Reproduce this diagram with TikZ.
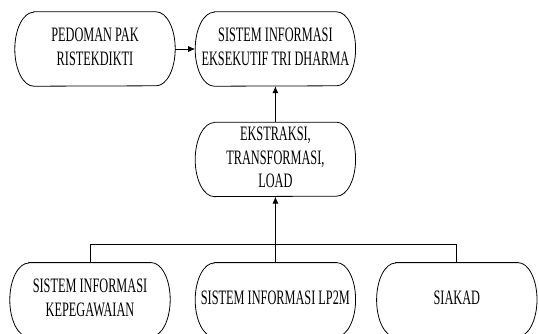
\documentclass[tikz,border=0pt]{standalone}
\usepackage{fontspec}
\usepackage{graphicx}
\setmainfont{Liberation Serif}
\usetikzlibrary{
	arrows.meta,
	positioning
}
\tikzset{
	>={Latex[length=7pt,width=6pt]},
	flowedge/.style={line width=0.8pt},
	flownode/.style={minimum width=160pt, minimum height=74pt, inner sep=0pt,
		font=\fontsize{20.5}{23.5}\selectfont},
	outline/.style={line width=0.8pt}
}
\newcommand{\rx}{19pt}
\newcommand{\ry}{37pt}
\newcommand{\narrow}[1]{\scalebox{0.6}[1]{\begin{tabular}{@{}c@{}}#1\end{tabular}}}

\begin{document}
\begin{tikzpicture}[x=1pt, y=1pt]
	\useasboundingbox (0,0) rectangle (539,-333);
	\clip (0,0) rectangle (539,-333);

	\node[flownode] (pedoman) at (95,-49) {\narrow{PEDOMAN PAK\\RISTEKDIKTI}};
	\node[flownode] (eis) [right=20pt of pedoman] {\narrow{SISTEM INFORMASI\\EKSEKUTIF TRI DHARMA}};
	\node[flownode] (etl) [below=36pt of eis] {\narrow{EKSTRAKSI,\\TRANSFORMASI,\\LOAD}};
	\node[flownode] (lp2m) [below=66pt of etl] {\narrow{SISTEM INFORMASI LP2M}};
	\node[flownode] (simpeg) [left=25pt of lp2m] {\narrow{SISTEM INFORMASI\\KEPEGAWAIAN}};
	\node[flownode] (siakad) [right=21pt of lp2m] {\narrow{SIAKAD}};

	% rounded outlines
	\foreach \n in {pedoman, eis, etl, simpeg, lp2m, siakad}
		\draw[outline] ([xshift=\rx]\n.north west) -- ([xshift=-\rx]\n.north east)
			arc[start angle=90, end angle=-90, x radius=\rx, y radius=\ry]
			-- ([xshift=\rx]\n.south west)
			arc[start angle=270, end angle=90, x radius=\rx, y radius=\ry] -- cycle;

	\coordinate (bus) at ([yshift=-48pt]etl.south);

	\path[flowedge]
		(pedoman) edge[->] (eis)
		(etl) edge[->] (eis)
		(lp2m.north) edge[->] (etl.south)
	;
	\draw[flowedge] (simpeg.north) |- (bus) -| (siakad.north);
\end{tikzpicture}
\end{document}
